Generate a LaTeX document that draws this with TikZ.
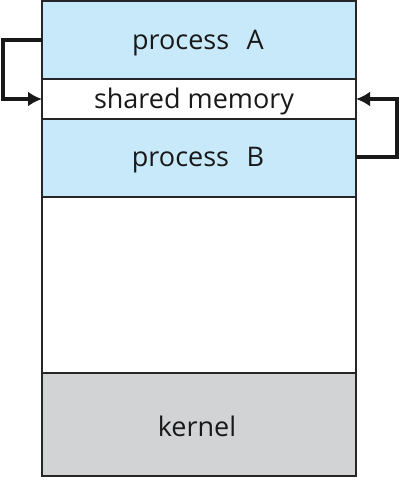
\documentclass[tikz,border=0pt]{standalone}
\usepackage{fontspec}
\setmainfont{Open Sans}
\usetikzlibrary{arrows.meta}
\definecolor{procblue}{RGB}{199,233,249}
\definecolor{kerngray}{RGB}{209,211,212}
\begin{document}
\begin{tikzpicture}[x=1pt,y=-1pt,
  band/.style={draw=black!85,line width=1.3pt},
  lbl/.style={font=\fontsize{27}{30}\selectfont,text=black!90},
  conn/.style={draw=black!90,line width=3.8pt,-{Latex[length=14pt,width=15pt]}}]
\useasboundingbox (0,0) rectangle (401,480);
\fill[white] (0,0) rectangle (401,480);
\path[band,fill=procblue] (42,1) rectangle (356,79);
\path[band,fill=white] (42,79) rectangle (356,119);
\path[band,fill=procblue] (42,119) rectangle (356,197);
\path[band,fill=white] (42,197) rectangle (356,373);
\path[band,fill=kerngray] (42,373) rectangle (356,476);
\node[lbl] (pa) at (198,43) {process\hspace{0.65em}A};
\node[lbl] (sm) at (194,101) {shared memory};
\node[lbl] (pb) at (198,160) {process\hspace{0.65em}B};
\node[lbl] (k) at (197,426) {kernel};
\coordinate (aout) at (42,40);
\coordinate (ain) at (42,99);
\coordinate (bout) at (356,157);
\coordinate (bin) at (356,99);
\draw[conn] (aout) -- (3,40) -- (3,99) -- (ain);
\draw[conn] (bout) -- (397,157) -- (397,99) -- (bin);
\end{tikzpicture}
\end{document}
